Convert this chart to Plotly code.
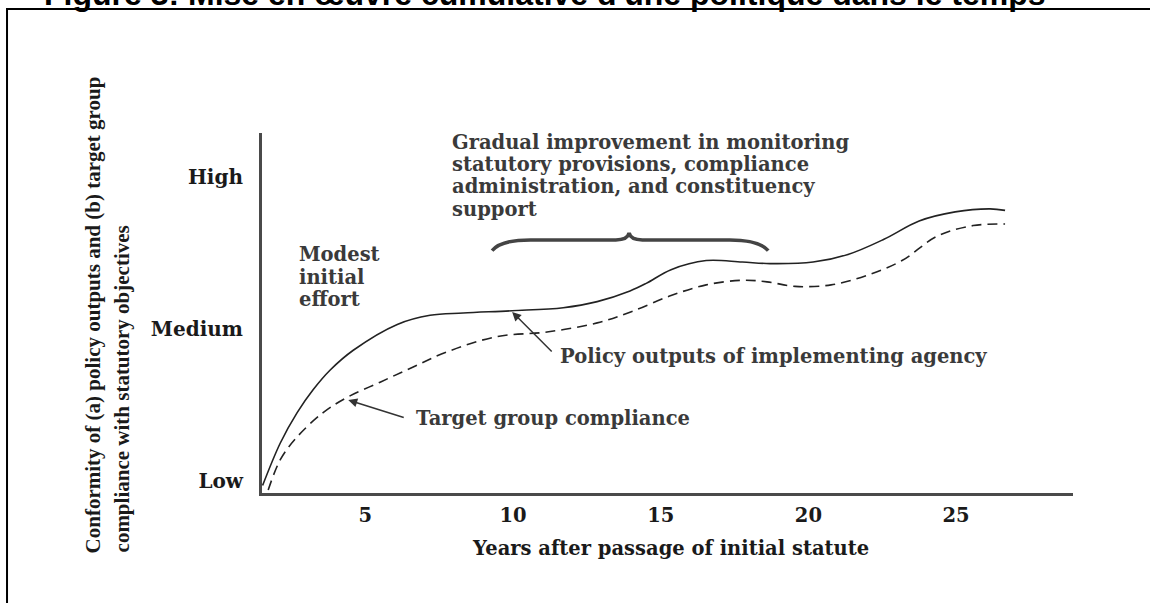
import plotly.graph_objects as go

# ---- data (years after statute, conformity level: 0=Low, 1=Medium, 2=High) ----
policy_years = [1.52, 2.12, 2.69, 3.23, 3.81, 4.59, 6.08, 7.19, 8.31, 9.97, 11.70, 12.85,
                13.96, 14.51, 15.35, 16.54, 17.76, 18.70, 20.16, 21.34, 22.56, 23.75, 24.97, 26.15, 26.66]
policy_values = [-0.03, 0.25, 0.45, 0.60, 0.73, 0.86, 1.03, 1.09, 1.105, 1.12, 1.14, 1.18,
                 1.25, 1.30, 1.39, 1.45, 1.44, 1.43, 1.44, 1.49, 1.59, 1.71, 1.77, 1.79, 1.78]

target_years = [1.71, 2.12, 2.69, 3.57, 4.38, 5.50, 6.62, 7.77, 9.46, 11.15, 12.85, 13.96, 15.35,
                16.54, 17.76, 18.60, 19.55, 20.77, 21.95, 23.17, 24.36, 25.58, 26.66]
target_values = [-0.06, 0.14, 0.29, 0.45, 0.55, 0.65, 0.75, 0.85, 0.95, 0.98, 1.04, 1.11, 1.22,
                 1.29, 1.32, 1.31, 1.28, 1.29, 1.35, 1.45, 1.61, 1.68, 1.69]

x_ticks = [5, 10, 15, 20, 25]
y_tick_vals = [0, 1, 2]
y_tick_labels = ["Low", "Medium", "High"]

# brace spanning the "gradual improvement" period: start, peak, end years; end / bar / tip levels
brace_years = [9.29, 13.93, 18.64]
brace_levels = [1.515, 1.586, 1.632]

title = "Figure 3: Mise en œuvre cumulative d'une politique dans le temps"
x_title = "Years after passage of initial statute"
y_title_lines = ["Conformity of (a) policy outputs and (b) target group",
                 "compliance with statutory objectives"]
gradual_lines = ["Gradual improvement in monitoring", "statutory provisions, compliance",
                 "administration, and constituency", "support"]
modest_lines = ["Modest", "initial", "effort"]
policy_label = "Policy outputs of implementing agency"
target_label = "Target group compliance"

SERIF = "DejaVu Serif"
TEXT = "#3a3a3a"
INK = "#1a1a1a"
ASIZE = 19.5

fig = go.Figure()
fig.add_trace(go.Scatter(x=policy_years, y=policy_values, mode="lines",
                         line=dict(color="#222", width=1.6, shape="spline", smoothing=1.0),
                         name="Policy outputs", hoverinfo="skip"))
fig.add_trace(go.Scatter(x=target_years, y=target_values, mode="lines",
                         line=dict(color="#222", width=1.6, dash="10px,6px", shape="spline", smoothing=1.0),
                         name="Target group compliance", hoverinfo="skip"))

# brace path
x0, xm, x1 = brace_years
yend, ybar, ytip = brace_levels
path = (f"M {x0},{yend} Q {x0+0.3},{ybar} {x0+1.3},{ybar} "
        f"L {xm-0.45},{ybar} Q {xm-0.05},{ybar} {xm},{ytip} "
        f"Q {xm+0.05},{ybar} {xm+0.45},{ybar} "
        f"L {x1-1.3},{ybar} Q {x1-0.3},{ybar} {x1},{yend}")
fig.add_shape(type="path", path=path, xref="x", yref="y",
              line=dict(color="#444", width=3.5))

# outer frame
fig.add_shape(type="rect", xref="paper", yref="paper", x0=-0.3144, x1=1.3, y0=-0.6, y1=1.3444,
              line=dict(color="black", width=2), layer="above")

ann = []
ann.append(dict(text="<b>" + title + "</b>", xref="paper", yref="paper", x=0.349, y=1.386,
                xanchor="center", yanchor="middle", showarrow=False,
                font=dict(family="Liberation Sans", size=32, color="black")))
for line, yy in zip(gradual_lines, [2.224, 2.079, 1.934, 1.783]):
    ann.append(dict(text="<b>" + line + "</b>", x=7.87, y=yy, xref="x", yref="y", xanchor="left",
                    yanchor="middle", showarrow=False, font=dict(family=SERIF, size=ASIZE, color=TEXT)))
for line, yy in zip(modest_lines, [1.487, 1.336, 1.191]):
    ann.append(dict(text="<b>" + line + "</b>", x=2.69, y=yy, xref="x", yref="y", xanchor="left",
                    yanchor="middle", showarrow=False, font=dict(family=SERIF, size=ASIZE, color=TEXT)))
ann.append(dict(text="<b>" + policy_label + "</b>", x=11.53, y=0.816, xref="x", yref="y",
                xanchor="left", yanchor="middle", showarrow=False,
                font=dict(family=SERIF, size=ASIZE, color=TEXT)))
ann.append(dict(text="<b>" + target_label + "</b>", x=6.65, y=0.414, xref="x", yref="y",
                xanchor="left", yanchor="middle", showarrow=False,
                font=dict(family=SERIF, size=ASIZE, color=TEXT)))
# arrows
ann.append(dict(text="", x=9.97, y=1.112, ax=11.36, ay=0.842, xref="x", yref="y", axref="x", ayref="y",
                showarrow=True, arrowhead=2, arrowsize=1.2, arrowwidth=1.5, arrowcolor="#333"))
ann.append(dict(text="", x=4.42, y=0.533, ax=6.35, ay=0.414, xref="x", yref="y", axref="x", ayref="y",
                showarrow=True, arrowhead=2, arrowsize=1.2, arrowwidth=1.5, arrowcolor="#333"))
# axis titles
ann.append(dict(text="<b>" + x_title + "</b>", xref="paper", yref="paper", x=0.504, y=-0.153,
                xanchor="center", yanchor="middle", showarrow=False,
                font=dict(family=SERIF, size=19.5, color=INK)))
ann.append(dict(text="<b>" + y_title_lines[0] + "</b>", xref="paper", yref="paper", x=-0.2084, y=-0.172,
                xanchor="center", yanchor="bottom", textangle=-90, showarrow=False,
                font=dict(family="Liberation Serif", size=21, color=INK)))
ann.append(dict(text="<b>" + y_title_lines[1] + "</b>", xref="paper", yref="paper", x=-0.1726, y=-0.172,
                xanchor="center", yanchor="bottom", textangle=-90, showarrow=False,
                font=dict(family="Liberation Serif", size=21, color=INK)))

fig.update_layout(
    width=1150, height=603,
    margin=dict(l=262, r=77, t=133, b=110),
    paper_bgcolor="white", plot_bgcolor="white",
    showlegend=False,
    annotations=ann,
    xaxis=dict(range=[1.5, 28.96], showgrid=False, zeroline=False, showline=True,
               linecolor="#4a4a4a", linewidth=3, tickvals=x_ticks, ticktext=[f"<b>{v}</b>" for v in x_ticks],
               tickfont=dict(family=SERIF, size=19.5, color=INK), ticks="", ticklabelstandoff=3),
    yaxis=dict(range=[-0.079, 2.289], showgrid=False, zeroline=False, showline=True,
               linecolor="#4a4a4a", linewidth=3, tickvals=y_tick_vals,
               ticktext=[f"<b>{t}</b>" for t in y_tick_labels],
               tickfont=dict(family=SERIF, size=20, color=INK), ticks="", ticklabelstandoff=12),
)

fig.write_html("out.html", config={"displayModeBar": False},
               post_script="document.body.style.margin='0';document.body.style.overflow='hidden';")
